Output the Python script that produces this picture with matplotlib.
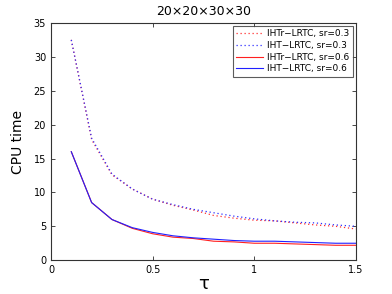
import matplotlib
matplotlib.use('Agg')
import matplotlib.pyplot as plt
import numpy as np

tau = [0.1, 0.2, 0.3, 0.4, 0.5, 0.6, 0.7, 0.8, 0.9, 1.0, 1.1, 1.2, 1.3, 1.4, 1.5]

ihtr_03 = [32.5, 17.8, 12.6, 10.5, 9.0, 8.1, 7.4, 6.6, 6.2, 5.9, 5.8, 5.5, 5.2, 5.0, 4.6]
iht_03 = [32.5, 18.0, 12.7, 10.5, 9.0, 8.2, 7.5, 7.0, 6.5, 6.1, 5.8, 5.6, 5.5, 5.2, 5.0]
ihtr_06 = [16.0, 8.5, 6.0, 4.7, 3.9, 3.4, 3.2, 2.8, 2.7, 2.5, 2.5, 2.4, 2.3, 2.2, 2.2]
iht_06 = [16.0, 8.5, 6.0, 4.8, 4.1, 3.6, 3.3, 3.1, 2.9, 2.8, 2.8, 2.7, 2.6, 2.5, 2.5]

fig = plt.figure(figsize=(3.92, 2.94), dpi=100)
ax = fig.add_axes([0.13, 0.115, 0.778, 0.807])

dot = (0, (1, 2.2))
ax.plot(tau, ihtr_03, linestyle=dot, color='#ff3030', lw=0.9, label='IHTr\u2212LRTC, sr=0.3')
ax.plot(tau, iht_03, linestyle=dot, color='#3030ff', lw=0.9, label='IHT\u2212LRTC, sr=0.3')
ax.plot(tau, ihtr_06, '-', color='#ff2020', lw=0.8, label='IHTr\u2212LRTC, sr=0.6')
ax.plot(tau, iht_06, '-', color='#2020ff', lw=0.8, label='IHT\u2212LRTC, sr=0.6')

ax.set_xlim(0, 1.5)
ax.set_ylim(0, 35)
ax.set_xticks([0, 0.5, 1, 1.5])
ax.set_xticklabels(['0', '0.5', '1', '1.5'])
ax.set_yticks(np.arange(0, 36, 5))
ax.tick_params(direction='in', top=True, right=True, labelsize=7, length=3, width=0.5)
for s in ax.spines.values():
    s.set_linewidth(0.8)
    s.set_color('#333333')

ax.set_title('20\u00d720\u00d730\u00d730', fontsize=9)
ax.set_xlabel('\u03c4', fontsize=13, labelpad=0)
ax.set_ylabel('CPU time', fontsize=10, labelpad=6)

leg = ax.legend(loc='upper right', fontsize=6.5, frameon=True, fancybox=False,
                borderpad=0.35, labelspacing=0.3, handlelength=3.0, handletextpad=0.5,
                borderaxespad=0.35)
leg.get_frame().set_edgecolor('#333333')
leg.get_frame().set_linewidth(0.8)

fig.savefig('out.png', dpi=100)
